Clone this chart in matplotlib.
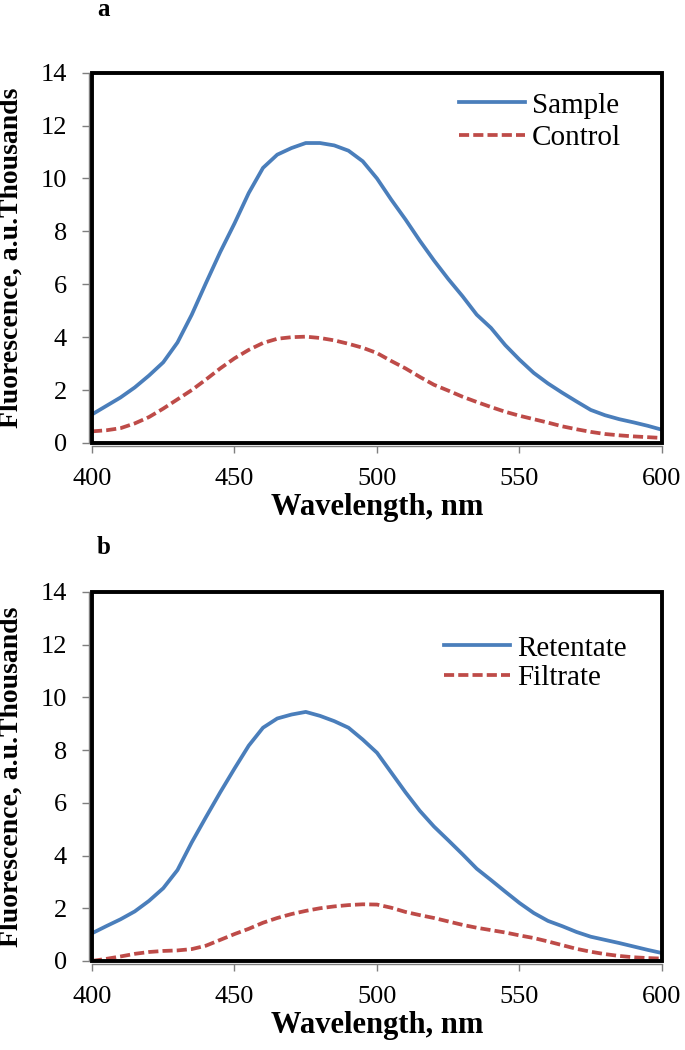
import matplotlib
matplotlib.use("Agg")
import matplotlib.pyplot as plt
from matplotlib.patches import Rectangle

plt.rcParams['font.family'] = ['Liberation Serif', 'DejaVu Serif']

# wavelength, nm (same grid for every series)
wavelength = [400, 405, 410, 415, 420, 425, 430, 435, 440, 445,
              450, 455, 460, 465, 470, 475, 480, 485, 490, 495,
              500, 505, 510, 515, 520, 525, 530, 535, 540, 545,
              550, 555, 560, 565, 570, 575, 580, 585, 590, 595, 600]

# panel a, fluorescence in thousands
sample = [1.08, 1.40, 1.72, 2.10, 2.55, 3.05, 3.80, 4.85, 6.05, 7.22,
          8.30, 9.45, 10.40, 10.90, 11.15, 11.34, 11.34, 11.25, 11.05, 10.65,
          10.00, 9.20, 8.45, 7.65, 6.90, 6.20, 5.55, 4.85, 4.35, 3.70,
          3.15, 2.65, 2.25, 1.90, 1.57, 1.25, 1.05, 0.90, 0.78, 0.65, 0.50]
control = [0.44, 0.48, 0.56, 0.74, 0.98, 1.30, 1.65, 2.00, 2.40, 2.82,
           3.20, 3.52, 3.78, 3.94, 4.00, 4.02, 3.97, 3.88, 3.75, 3.60,
           3.40, 3.10, 2.82, 2.50, 2.20, 1.98, 1.75, 1.55, 1.36, 1.18,
           1.03, 0.90, 0.77, 0.63, 0.52, 0.42, 0.34, 0.29, 0.25, 0.22, 0.19]

# panel b
retentate = [1.05, 1.32, 1.58, 1.88, 2.28, 2.76, 3.45, 4.50, 5.46, 6.40,
             7.30, 8.17, 8.85, 9.20, 9.35, 9.45, 9.30, 9.10, 8.85, 8.40,
             7.90, 7.15, 6.40, 5.70, 5.10, 4.58, 4.05, 3.50, 3.07, 2.63,
             2.20, 1.82, 1.52, 1.32, 1.10, 0.92, 0.80, 0.68, 0.55, 0.42, 0.30]
filtrate = [0.00, 0.08, 0.17, 0.27, 0.34, 0.38, 0.40, 0.45, 0.58, 0.80,
            1.02, 1.22, 1.45, 1.63, 1.78, 1.90, 2.00, 2.07, 2.12, 2.15,
            2.14, 2.02, 1.86, 1.74, 1.63, 1.50, 1.37, 1.26, 1.17, 1.08,
            0.97, 0.87, 0.74, 0.60, 0.46, 0.35, 0.26, 0.19, 0.14, 0.11, 0.09]

x_ticks = [400, 450, 500, 550, 600]
y_ticks = [0, 2, 4, 6, 8, 10, 12, 14]

BLUE = '#4A7EBB'
RED = '#BE4B48'


def draw_panel(fig, rect, y1, y2, names, leg_anchor, leg_spacing):
    ax = fig.add_axes(rect)
    ax.plot(wavelength, y1, color=BLUE, lw=2.7, label=names[0])
    ax.plot(wavelength, y2, color=RED, lw=2.7, ls=(0, (2.7, 1.1)), label=names[1])
    ax.set_xlim(400, 600)
    ax.set_ylim(0, 14)
    ax.set_xticks(x_ticks)
    ax.set_yticks(y_ticks)

    # gray excel axes with outward ticks, black plot-area border on top
    for s in ['top', 'right']:
        ax.spines[s].set_visible(False)
    for s in ['left', 'bottom']:
        ax.spines[s].set_color('#7f7f7f')
        ax.spines[s].set_linewidth(1.0)
        ax.spines[s].set_position(('outward', 2))
    ax.tick_params(direction='out', length=5, width=1, color='#7f7f7f',
                   labelsize=19, pad=11)
    ax.add_patch(Rectangle((0, 0), 1, 1, transform=ax.transAxes, fill=False,
                           edgecolor='black', lw=2.8, clip_on=False, zorder=5))

    ax.set_xlabel('Wavelength, nm', fontsize=22, fontweight='bold', labelpad=2)
    ax.legend(loc='upper left', bbox_to_anchor=leg_anchor, frameon=False,
              fontsize=21, borderpad=0, borderaxespad=0, handlelength=2.26,
              handletextpad=0.24, labelspacing=leg_spacing)
    return ax


fig = plt.figure(figsize=(6.85, 10.5), dpi=100)

ax_a = draw_panel(fig, [0.1343, 0.5781, 0.8321, 0.3527], sample, control,
                  ['Sample', 'Control'], (0.644, 0.947), 0.2)
ax_b = draw_panel(fig, [0.1343, 0.0848, 0.8321, 0.3514], retentate, filtrate,
                  ['Retentate', 'Filtrate'], (0.6175, 0.883), 0.12)

ylab = 'Fluorescence, a.u.Thousands'
fig.text(11 / 685, 1 - 258 / 1050, ylab, rotation=90, ha='center', va='center',
         fontsize=20, fontweight='bold')
fig.text(11 / 685, 1 - 776.5 / 1050, ylab, rotation=90, ha='center', va='center',
         fontsize=20, fontweight='bold')

fig.text(103 / 685, 1 - 10 / 1050, 'a', ha='center', va='center',
         fontsize=18, fontweight='bold')
fig.text(104 / 685, 1 - 548 / 1050, 'b', ha='center', va='center',
         fontsize=18, fontweight='bold')

fig.savefig('out.png', dpi=100)
